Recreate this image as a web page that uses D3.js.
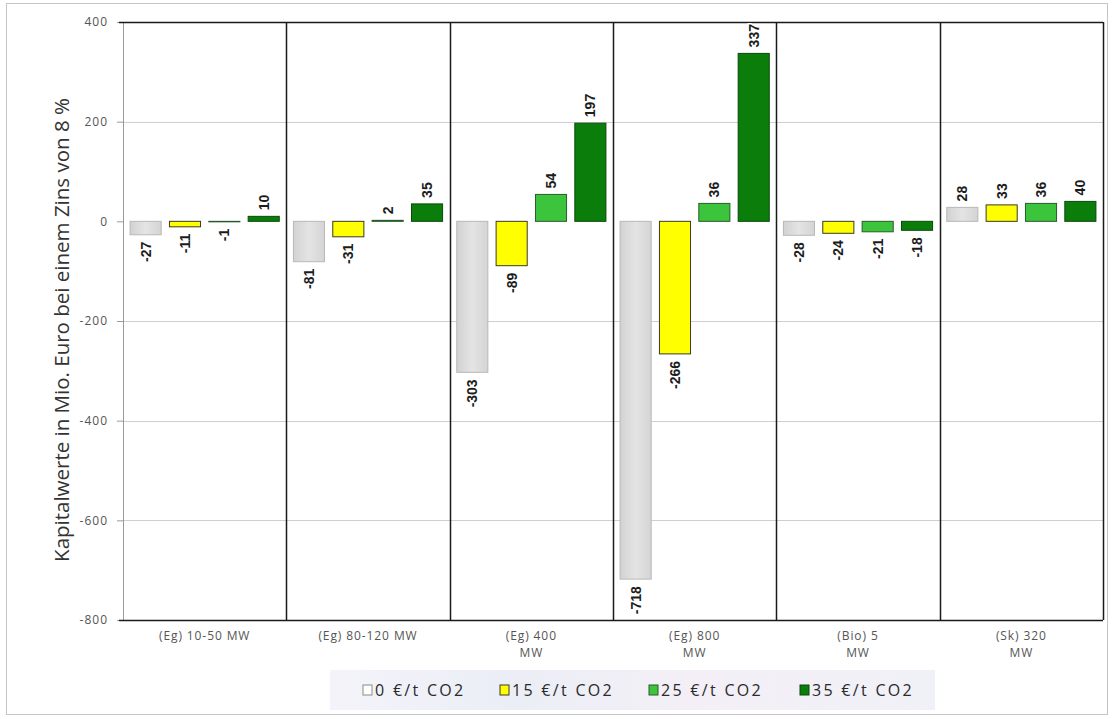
<!DOCTYPE html>
<html>
<head>
<meta charset="utf-8">
<script src="https://cdn.jsdelivr.net/npm/d3@7/dist/d3.min.js"></script>
<style>
  html, body { margin: 0; padding: 0; background: #fff; }
  svg { display: block; }
</style>
</head>
<body>
<svg id="chart" width="1112" height="719"></svg>
<script>
// Plant categories (x axis), split into display lines
const categories = ["(Eg) 10-50 MW", "(Eg) 80-120 MW", "(Eg) 400 MW", "(Eg) 800 MW", "(Bio) 5 MW", "(Sk) 320 MW"];
const categoryLines = [["(Eg) 10-50 MW"], ["(Eg) 80-120 MW"], ["(Eg) 400", "MW"], ["(Eg) 800", "MW"], ["(Bio) 5", "MW"], ["(Sk) 320", "MW"]];

// CO2 price scenarios
const seriesNames = ["0 €/t CO2", "15 €/t CO2", "25 €/t CO2", "35 €/t CO2"];

// Net present values (Mio. Euro) per scenario, one entry per category
const values0 = [-27, -81, -303, -718, -28, 28];
const values15 = [-11, -31, -89, -266, -24, 33];
const values25 = [-1, 2, 54, 36, -21, 36];
const values35 = [10, 35, 197, 337, -18, 40];

const yTicks = [400, 200, 0, -200, -400, -600, -800];

const seriesValues = [values0, values15, values25, values35];
const fills = ["url(#grayBar)", "#ffff00", "#3cc43c", "#0a7d0a"];
const legendFills = ["#ffffff", "#ffff00", "#3cc43c", "#0a7d0a"];
const strokes = ["#b8b8b8", "#3a3a2a", "#2a5a2a", "#0a4a0a"];

// Plain hyphen for negative numbers
const fmt = d => String(d);

const svg = d3.select("#chart");
const pLeft = 123, pRight = 1103, pTop = 22, pBottom = 620;

const defs = svg.append("defs");
const gg = defs.append("linearGradient").attr("id", "grayBar").attr("x1", "0").attr("x2", "1").attr("y1", "0").attr("y2", "0");
gg.append("stop").attr("offset", "0").attr("stop-color", "#d2d2d2");
gg.append("stop").attr("offset", "0.5").attr("stop-color", "#e4e4e4");
gg.append("stop").attr("offset", "1").attr("stop-color", "#d4d4d4");

// Outer chart frame
svg.append("rect")
  .attr("x", 6.5).attr("y", 3.5).attr("width", 1101).attr("height", 711)
  .attr("fill", "#fff").attr("stroke", "#c4c4c4").attr("stroke-width", 1);

const y = d3.scaleLinear().domain([-800, 400]).range([pBottom, pTop]);
const x0 = d3.scaleBand().domain(categories).range([pLeft, pRight]).padding(0);
const x1 = d3.scaleBand().domain(d3.range(4)).range([0, x0.bandwidth()])
  .paddingInner(0.21).paddingOuter(0.18);

// Horizontal gridlines
svg.append("g").selectAll("line")
  .data(yTicks.filter(t => t !== 0 && t !== 400 && t !== -800))
  .join("line")
  .attr("x1", pLeft).attr("x2", pRight)
  .attr("y1", d => Math.round(y(d)) + 0.5).attr("y2", d => Math.round(y(d)) + 0.5)
  .attr("stroke", "#cfcfcf").attr("stroke-width", 1);

// Y axis
const yAxis = d3.axisLeft(y).tickValues(yTicks).tickSize(6).tickPadding(9).tickFormat(fmt);
const gy = svg.append("g").attr("transform", `translate(${pLeft},0)`).call(yAxis);
gy.select(".domain").attr("stroke", "#9a9a9a");
gy.selectAll(".tick line").attr("stroke", "#9a9a9a");
gy.selectAll(".tick text")
  .attr("fill", "#555")
  .style("font-family", "'Open Sans', 'Liberation Sans', sans-serif")
  .style("font-size", "12px")
  .style("letter-spacing", "1px");

// Y axis title
svg.append("text")
  .attr("transform", `translate(62,${(pTop + pBottom) / 2 + 9}) rotate(-90)`)
  .attr("text-anchor", "middle")
  .attr("dy", "0.35em")
  .attr("fill", "#333")
  .style("font-family", "'Open Sans', 'Liberation Sans', sans-serif")
  .style("font-size", "20.5px")
  .text("Kapitalwerte in Mio. Euro bei einem Zins von 8 %");

// Bars
const groups = svg.append("g").selectAll("g")
  .data(categories)
  .join("g")
  .attr("transform", d => `translate(${x0(d)},0)`);

groups.selectAll("rect")
  .data((d, ci) => seriesValues.map((vals, si) => ({ si, v: vals[ci] })))
  .join("rect")
  .attr("x", d => x1(d.si))
  .attr("width", x1.bandwidth())
  .attr("y", d => y(Math.max(0, d.v)))
  .attr("height", d => Math.abs(y(d.v) - y(0)))
  .attr("fill", d => fills[d.si])
  .attr("stroke", d => strokes[d.si])
  .attr("stroke-width", 1);

// Category frames: top, bottom and dividers
const frame = svg.append("g");
frame.append("line").attr("x1", pLeft - 4).attr("x2", pRight).attr("y1", pTop + 0.5).attr("y2", pTop + 0.5)
  .attr("stroke", "#1a1a1a").attr("stroke-width", 1.5);
frame.append("line").attr("x1", pLeft - 4).attr("x2", pRight).attr("y1", pBottom + 0.5).attr("y2", pBottom + 0.5)
  .attr("stroke", "#1a1a1a").attr("stroke-width", 1.5);
frame.selectAll("line.div")
  .data(categories.slice(1).map(c => x0(c)).concat([pRight]))
  .join("line")
  .attr("class", "div")
  .attr("x1", d => Math.round(d) + 0.5).attr("x2", d => Math.round(d) + 0.5)
  .attr("y1", pTop).attr("y2", pBottom)
  .attr("stroke", "#1a1a1a").attr("stroke-width", 1.5);

// Value labels, rotated, drawn above the frame lines
const labels = svg.append("g").selectAll("g")
  .data(categories)
  .join("g")
  .attr("transform", d => `translate(${x0(d)},0)`);
labels.selectAll("text")
  .data((d, ci) => seriesValues.map((vals, si) => ({ si, v: vals[ci] })))
  .join("text")
  .attr("transform", d => {
    const cx = x1(d.si) + x1.bandwidth() / 2 + 5;
    const yy = d.v >= 0 ? y(d.v) - 6 : y(d.v) + 7;
    return `translate(${cx},${yy}) rotate(-90)`;
  })
  .attr("text-anchor", d => d.v >= 0 ? "start" : "end")
  .attr("fill", "#1c1c1c")
  .style("font-family", "'Liberation Sans', Arial, sans-serif")
  .style("font-weight", "bold")
  .style("font-size", "14px")
  .style("paint-order", "stroke")
  .style("stroke", "#fff")
  .style("stroke-width", "3px")
  .text(d => fmt(d.v));

// Category labels
const xl = svg.append("g").selectAll("text")
  .data(categories)
  .join("text")
  .attr("x", d => x0(d) + x0.bandwidth() / 2)
  .attr("y", 640)
  .attr("text-anchor", "middle")
  .attr("fill", "#555")
  .style("font-family", "'Open Sans', 'Liberation Sans', sans-serif")
  .style("font-size", "12px")
  .style("letter-spacing", "0.9px");
xl.selectAll("tspan")
  .data((d, i) => categoryLines[i])
  .join("tspan")
  .attr("x", function () { return d3.select(this.parentNode).attr("x"); })
  .attr("dy", (d, i) => i === 0 ? 0 : 17)
  .text(d => d);

// Legend
const lg = defs.append("linearGradient").attr("id", "legendBg").attr("x1", "0").attr("x2", "1").attr("y1", "0").attr("y2", "0");
lg.append("stop").attr("offset", "0").attr("stop-color", "#f4f3fa");
lg.append("stop").attr("offset", "0.3").attr("stop-color", "#ebeef6");
lg.append("stop").attr("offset", "0.6").attr("stop-color", "#f4eff6");
lg.append("stop").attr("offset", "1").attr("stop-color", "#f0f1f7");
svg.append("rect")
  .attr("x", 330).attr("y", 670).attr("width", 605).attr("height", 40)
  .attr("fill", "url(#legendBg)");

const legendX = [363, 500, 649, 800];
const legend = svg.append("g").selectAll("g")
  .data(seriesNames)
  .join("g")
  .attr("transform", (d, i) => `translate(${legendX[i]},690)`);
legend.append("rect")
  .attr("x", 0).attr("y", -5).attr("width", 9).attr("height", 10)
  .attr("fill", (d, i) => legendFills[i])
  .attr("stroke", (d, i) => i === 0 ? "#8a8a8a" : strokes[i])
  .attr("stroke-width", 1);
legend.append("text")
  .attr("x", 12).attr("y", 0).attr("dy", "0.35em")
  .attr("fill", "#2a2a2a")
  .style("font-family", "'Open Sans', 'Liberation Sans', sans-serif")
  .style("font-size", "16px")
  .style("letter-spacing", "2.3px")
  .text(d => d);
</script>
</body>
</html>
